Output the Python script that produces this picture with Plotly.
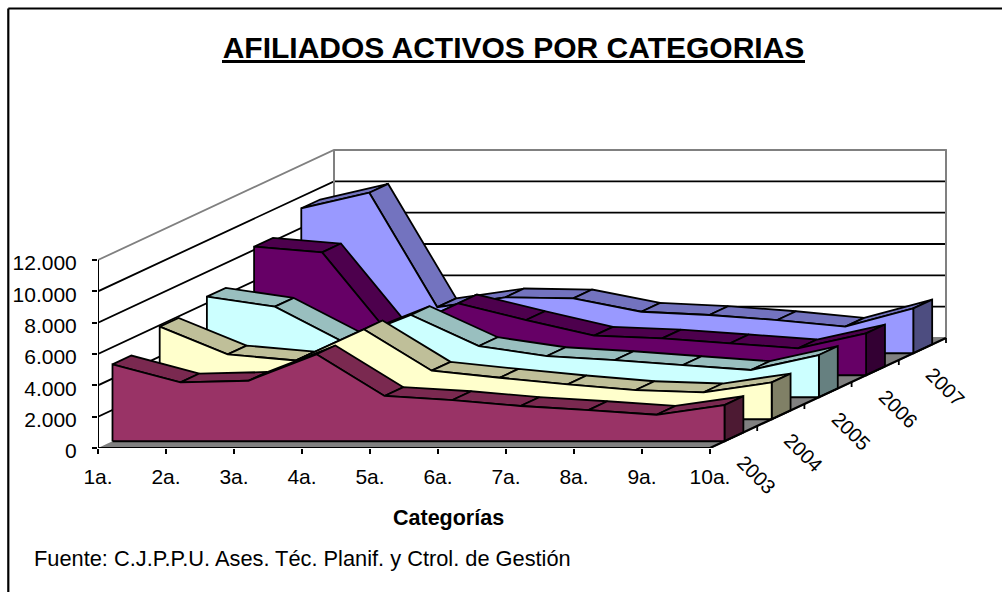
import plotly.graph_objects as go

categories = ["1a.", "2a.", "3a.", "4a.", "5a.", "6a.", "7a.", "8a.", "9a.", "10a."]
years = ["2003", "2004", "2005", "2006", "2007"]
v2003 = [4910, 3760, 3860, 5550, 2890, 2630, 2250, 1990, 1690, 2310]
v2004 = [5910, 4140, 3750, 5740, 3100, 2650, 2230, 1865, 1720, 2350]
v2005 = [6420, 5780, 3540, 5250, 3270, 2630, 2375, 2055, 1740, 2695]
v2006 = [8205, 7845, 2570, 4590, 3525, 2525, 2350, 2040, 1720, 2675]
v2007 = [9250, 10245, 2940, 3570, 3505, 2650, 2440, 2120, 1695, 2865]
series_values = [v2003, v2004, v2005, v2006, v2007]
front_colors = ["#993366", "#FFFFCC", "#CCFFFF", "#660066", "#9999FF"]
top_colors = ["#7A2950", "#BFBF99", "#99BFBF", "#4D004D", "#7373BF"]
side_colors = ["#4D1A33", "#808066", "#668080", "#330033", "#4D4D80"]
y_ticks = [0, 2000, 4000, 6000, 8000, 10000, 12000]

W, H = 1002, 592
L, R, T, B = 98, 947, 130, 448
PX_CAT = 68.0
PX_VAL = 188.0 / 12000.0
DX = 47.2 / PX_CAT      # one depth step, in category units
DY = 22.0 / PX_VAL      # one depth step, in value units
FRONT, THICK = 0.307, 0.4
NCAT = len(categories) - 1
NDEPTH = len(years)
FONT = "Liberation Sans"
LW = 1.8


def P(c, v, d):
    return c + d * DX, v + d * DY


fig = go.Figure()


def poly(points, fill=None, line="black", width=LW):
    xs = [p[0] for p in points]
    ys = [p[1] for p in points]
    kw = dict(fill="toself", fillcolor=fill) if fill else {}
    fig.add_trace(go.Scatter(x=xs, y=ys, mode="lines", line=dict(color=line, width=width),
                             hoverinfo="skip", showlegend=False, cliponaxis=False, **kw))


# walls and gridlines
poly([P(0, 12000, NDEPTH), P(NCAT, 12000, NDEPTH), P(NCAT, 0, NDEPTH), P(0, 0, NDEPTH)], "white", "#808080")
for v in y_ticks[1:]:
    color = "#808080" if v == 12000 else "black"
    poly([P(0, v, 0), P(0, v, NDEPTH), P(NCAT, v, NDEPTH)], None, color)
poly([P(0, 0, NDEPTH), P(0, 12000, NDEPTH)], None, "#808080", 2)
poly([P(NCAT, 0, NDEPTH), P(NCAT, 12000, NDEPTH)], None, "#808080", 2)

# floor
poly([P(0, 0, 0), P(NCAT, 0, 0), P(NCAT, 0, NDEPTH), P(0, 0, NDEPTH)], "#808080", "#808080")

# series, back to front
for k in range(NDEPTH - 1, -1, -1):
    vals = series_values[k]
    d0, d1 = k + FRONT, k + FRONT + THICK
    for i in range(NCAT):
        poly([P(i, vals[i], d0), P(i + 1, vals[i + 1], d0), P(i + 1, vals[i + 1], d1), P(i, vals[i], d1),
              P(i, vals[i], d0)], top_colors[k])
    poly([P(NCAT, 0, d0), P(NCAT, vals[-1], d0), P(NCAT, vals[-1], d1), P(NCAT, 0, d1), P(NCAT, 0, d0)],
         side_colors[k])
    pts = [P(i, vals[i], d0) for i in range(NCAT + 1)]
    poly([P(0, 0, d0)] + pts + [P(NCAT, 0, d0), P(0, 0, d0)], front_colors[k])

# axes lines on the floor edges
poly([P(0, 0, 0), P(0, 12000, 0)], None, "black", 2)
poly([P(0, 0, 0), P(NCAT, 0, 0), P(NCAT, 0, NDEPTH)], None, "black", 2.2)
for k in range(1, NDEPTH + 1):
    x0, y0 = P(NCAT, 0, k)
    poly([(x0, y0), (x0, y0 - 5 / PX_VAL)], None, "black")

fx = lambda px: (px - L) / (R - L)
fy = lambda py: (B - py) / (B - T)

annotations = []
for k, yr in enumerate(years):
    x0, y0 = P(NCAT, 0, k + 0.5)
    annotations.append(dict(x=x0, y=y0, xref="x", yref="y", text=yr, showarrow=False, textangle=45,
                            xshift=23, yshift=-38, font=dict(family=FONT, size=20, color="black")))
annotations.append(dict(x=fx(448.5), y=fy(518), xref="paper", yref="paper", xanchor="center", yanchor="middle",
                        text="<b>Categorías</b>", showarrow=False,
                        font=dict(family=FONT, size=21.5, color="black")))
annotations.append(dict(x=fx(31.5), y=fy(558), xref="paper", yref="paper", xanchor="left", yanchor="middle",
                        text="Fuente: C.J.P.P.U. Ases. Téc. Planif. y Ctrol. de Gestión",
                        showarrow=False, font=dict(family=FONT, size=21.8, color="black")))

fig.update_layout(
    width=W, height=H, autosize=False,
    margin=dict(l=L, r=W - R, t=T, b=H - B, pad=0),
    paper_bgcolor="white", plot_bgcolor="white",
    separators=",.",
    showlegend=False,
    title=dict(text="<b>AFILIADOS ACTIVOS POR CATEGORIAS</b>", x=513.5 / W, xanchor="center",
               y=1 - 47 / H, yanchor="middle", font=dict(family=FONT, size=30, color="black")),
    xaxis=dict(range=[0, (R - L) / PX_CAT], tickvals=list(range(NCAT + 1)), ticktext=categories,
               ticks="outside", ticklen=5, tickwidth=2, tickcolor="black", showgrid=False, zeroline=False,
               showline=False, ticklabelstandoff=5, tickangle=0,
               tickfont=dict(family=FONT, size=21, color="black")),
    yaxis=dict(range=[0, (B - T) / PX_VAL], tickvals=y_ticks, tickformat=",d",
               ticks="outside", ticklen=5, tickwidth=2, tickcolor="black", showgrid=False, zeroline=False,
               showline=False, ticklabelstandoff=11, ticklabelshift=3,
               tickfont=dict(family=FONT, size=21, color="black")),
    annotations=annotations,
    shapes=[
        dict(type="line", xref="paper", yref="paper", x0=fx(8.3), x1=fx(1002), y0=fy(8.5), y1=fy(8.5),
             line=dict(color="black", width=2.2)),
        dict(type="line", xref="paper", yref="paper", x0=fx(8.3), x1=fx(8.3), y0=fy(8.5), y1=fy(592),
             line=dict(color="black", width=2.2)),
        dict(type="line", xref="paper", yref="paper", x0=fx(222), x1=fx(805), y0=fy(61.5), y1=fy(61.5),
             line=dict(color="black", width=3)),
    ],
)

fig.write_html("out.html", config={"displayModeBar": False},
               post_script="document.body.style.margin='0';document.body.style.overflow='hidden';")
